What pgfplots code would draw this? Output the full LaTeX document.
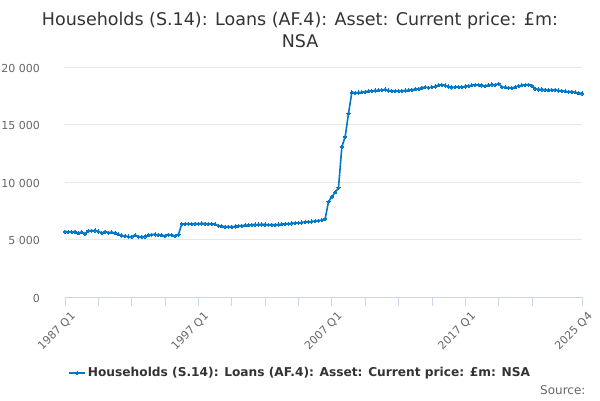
\documentclass[border=0pt]{standalone}
\usepackage{pgfplots}
\pgfplotsset{compat=1.18}
\usepackage{pgfplotstable}
\usepackage{fontspec}
\setmainfont{DejaVu Sans}
\definecolor{series}{HTML}{0077C8}
\definecolor{gridc}{HTML}{E6E6E6}
\definecolor{axisc}{HTML}{CCD6EB}
\definecolor{labelc}{HTML}{666666}
\definecolor{titlec}{HTML}{333333}
\pgfplotstableread{
i v
0 5680
1 5670
2 5660
3 5680
4 5560
5 5640
6 5500
7 5750
8 5770
9 5780
10 5700
11 5560
12 5680
13 5600
14 5620
15 5580
16 5450
17 5350
18 5300
19 5260
20 5240
21 5380
22 5250
23 5240
24 5260
25 5380
26 5420
27 5440
28 5400
29 5380
30 5320
31 5420
32 5380
33 5320
34 5420
35 6350
36 6350
37 6370
38 6360
39 6380
40 6370
41 6400
42 6380
43 6360
44 6370
45 6330
46 6200
47 6150
48 6110
49 6120
50 6110
51 6130
52 6180
53 6200
54 6230
55 6260
56 6280
57 6300
58 6300
59 6310
60 6300
61 6280
62 6290
63 6280
64 6300
65 6330
66 6360
67 6380
68 6400
69 6420
70 6450
71 6480
72 6520
73 6540
74 6560
75 6600
76 6640
77 6680
78 6800
79 8290
80 8720
81 9100
82 9500
83 13070
84 13940
85 15970
86 17800
87 17750
88 17780
89 17800
90 17850
91 17900
92 17920
93 17950
94 17980
95 18000
96 18050
97 17950
98 17920
99 17900
100 17920
101 17930
102 17950
103 17980
104 18020
105 18060
106 18100
107 18200
108 18250
109 18200
110 18250
111 18300
112 18420
113 18450
114 18400
115 18300
116 18220
117 18250
118 18270
119 18280
120 18300
121 18350
122 18420
123 18450
124 18440
125 18400
126 18350
127 18430
128 18480
129 18450
130 18550
131 18250
132 18230
133 18200
134 18180
135 18250
136 18350
137 18420
138 18450
139 18460
140 18380
141 18100
142 18050
143 18050
144 18020
145 17980
146 18000
147 18020
148 17950
149 17920
150 17880
151 17850
152 17850
153 17800
154 17730
155 17700
}\loans
\begin{document}
\begin{tikzpicture}[x=1pt,y=1pt]
\useasboundingbox (0,0) rectangle (600,400);
\node[font=\fontsize{17.5}{22}\selectfont, text=titlec, align=center] at (300,370) {Households (S.14): Loans (AF.4): Asset: Current price: £m:\\NSA};
\begin{axis}[
  at={(65pt,103pt)}, anchor=south west,
  scale only axis, width=517pt, height=230pt,
  xmin=0, xmax=155, ymin=0, ymax=20000,
  axis y line=left, axis x line=bottom,
  axis line style={-},
  y axis line style={draw=none},
  x axis line style={draw=axisc, line width=0.8pt},
  xtick={0,40,80,120,155},
  xticklabels={1987 Q1,1997 Q1,2007 Q1,2017 Q1,2025 Q4},
  minor xtick={10,20,30,50,60,70,90,100,110,130,140},
  xtick style={draw=axisc, line width=0.8pt},
  major tick length=9pt, minor tick length=9pt,
  tick align=outside,
  ytick={0,5000,10000,15000,20000},
  yticklabels={0,5 000,10 000,15 000,20 000},
  scaled y ticks=false,
  ytick style={draw=none},
  ymajorgrids, major grid style={draw=gridc, line width=0.8pt},
  tick label style={font=\fontsize{11}{13}\selectfont, text=labelc},
  /pgf/number format/assume math mode=true,
  yticklabel style={anchor=east, inner sep=0pt, xshift=-16pt, yshift=-1pt},
  xticklabel style={rotate=45, anchor=north east, inner sep=1pt, xshift=1pt, yshift=-6pt},
  legend style={at={(0.455,-0.33)}, anchor=center, draw=none, fill=none,
    font=\bfseries\fontsize{12.2}{15}\selectfont, text=titlec},
  legend image code/.code={\draw[#1, mark repeat=2, mark phase=2] plot coordinates {(0pt,0pt) (8pt,0pt) (16pt,0pt)};},
  clip=false,
]
\addplot[color=series, line width=1.6pt, mark=*, mark size=1.6pt, mark options={line width=0pt}] table[x=i, y=v] {\loans};
\addlegendentry{Households (S.14): Loans (AF.4): Asset: Current price: £m: NSA}
\end{axis}
\node[font=\fontsize{12}{14}\selectfont, text=labelc, anchor=east] at (589,10) {Source:};
\end{tikzpicture}
\end{document}
